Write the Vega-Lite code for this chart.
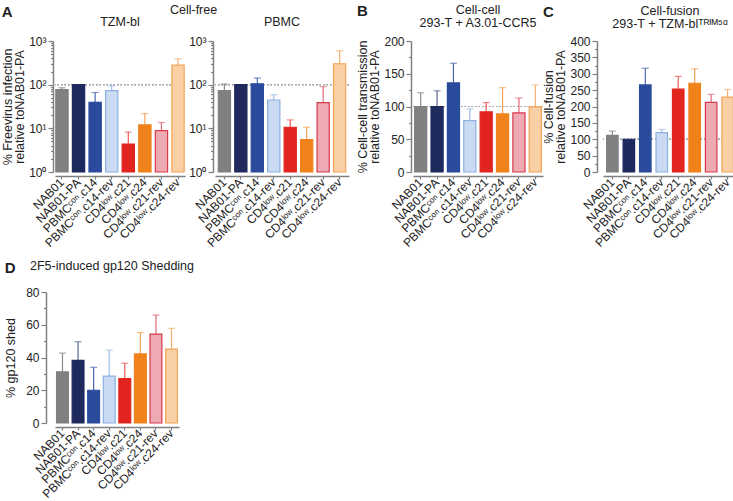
{
"$schema":"https://vega.github.io/schema/vega-lite/v6.json",
"padding":{"left":1,"top":3,"right":0,"bottom":2},
"background":"white",
"config":{"font":"Liberation Sans","view":{"stroke":null},
 "axis":{"domainColor":"#808080","domainWidth":1.5,"tickColor":"#808080","tickWidth":1.2,"labelColor":"#222","titleColor":"#222","labelFontSize":12,"titleFontSize":12.5,"titleFontWeight":"normal","titleLineHeight":12,"grid":false,"labelOverlap":false},
 "title":{"fontSize":12.5,"fontWeight":"normal","color":"#222"}},
"datasets":{
 "a1":[{"g":"NAB01","v":77,"e":85},{"g":"NAB01-PA","v":100,"e":null},{"g":"PBMCᶜᵒⁿ.c14","v":39.5,"e":66},{"g":"PBMCᶜᵒⁿ.c14-rev","v":73,"e":94},{"g":"CD4ˡᵒʷ.c21","v":4.35,"e":8.2},{"g":"CD4ˡᵒʷ.c24","v":12,"e":21.8},{"g":"CD4ˡᵒʷ.c21-rev","v":8.9,"e":13.6},{"g":"CD4ˡᵒʷ.c24-rev","v":281,"e":392}],
 "a2":[{"g":"NAB01","v":73,"e":104},{"g":"NAB01-PA","v":100,"e":null},{"g":"PBMCᶜᵒⁿ.c14","v":105,"e":142},{"g":"PBMCᶜᵒⁿ.c14-rev","v":44.6,"e":59},{"g":"CD4ˡᵒʷ.c21","v":10.6,"e":15.6},{"g":"CD4ˡᵒʷ.c24","v":5.5,"e":10.6},{"g":"CD4ˡᵒʷ.c21-rev","v":38.8,"e":90},{"g":"CD4ˡᵒʷ.c24-rev","v":301,"e":597}],
 "b":[{"g":"NAB01","v":100,"e":121},{"g":"NAB01-PA","v":100,"e":124},{"g":"PBMCᶜᵒⁿ.c14","v":136,"e":166},{"g":"PBMCᶜᵒⁿ.c14-rev","v":78.5,"e":96.4},{"g":"CD4ˡᵒʷ.c21","v":91.8,"e":106},{"g":"CD4ˡᵒʷ.c24","v":88.7,"e":128.7},{"g":"CD4ˡᵒʷ.c21-rev","v":90.3,"e":113},{"g":"CD4ˡᵒʷ.c24-rev","v":99.5,"e":133}],
 "c":[{"g":"NAB01","v":112,"e":125},{"g":"NAB01-PA","v":100,"e":null},{"g":"PBMCᶜᵒⁿ.c14","v":266,"e":317},{"g":"PBMCᶜᵒⁿ.c14-rev","v":120,"e":130},{"g":"CD4ˡᵒʷ.c21","v":253,"e":292},{"g":"CD4ˡᵒʷ.c24","v":271,"e":315},{"g":"CD4ˡᵒʷ.c21-rev","v":212.6,"e":237},{"g":"CD4ˡᵒʷ.c24-rev","v":228.6,"e":252}],
 "d":[{"g":"NAB01","v":31.2,"e":42.7},{"g":"NAB01-PA","v":38.2,"e":49.6},{"g":"PBMCᶜᵒⁿ.c14","v":20,"e":34},{"g":"PBMCᶜᵒⁿ.c14-rev","v":28.6,"e":44.5},{"g":"CD4ˡᵒʷ.c21","v":27.1,"e":36.5},{"g":"CD4ˡᵒʷ.c24","v":42.2,"e":55.3},{"g":"CD4ˡᵒʷ.c21-rev","v":54.3,"e":65.9},{"g":"CD4ˡᵒʷ.c24-rev","v":45.1,"e":57.8}]
},
"spacing":10,
"vconcat":[
{"spacing":6,"hconcat":[
 {"title":{"text":"A","anchor":"start","frame":"bounds","fontSize":15,"fontWeight":"bold","offset":-16},
  "vconcat":[{"title":{"text":"Cell-free","anchor":"middle","frame":"bounds","dx":18,"offset":-1},"spacing":2,"hconcat":[
   {"width":130,"height":131,"title":{"text":"TZM-bl","offset":7,"frame":"group"},"data":{"name":"a1"},
    "layer":[
     {"mark":{"type":"rule","strokeDash":[1.5,2],"color":"#aaa","strokeWidth":1},"encoding":{"y":{"datum":100}}},
     {"transform":[{"filter":"datum.e != null"}],"mark":{"type":"rule","strokeWidth":1.2},"encoding":{"x":{"field":"g","type":"nominal"},"y":{"field":"v","type":"quantitative"},"y2":{"field":"e"},"color":{"field":"g","type":"nominal","scale":{"domain":["NAB01","NAB01-PA","PBMCᶜᵒⁿ.c14","PBMCᶜᵒⁿ.c14-rev","CD4ˡᵒʷ.c21","CD4ˡᵒʷ.c24","CD4ˡᵒʷ.c21-rev","CD4ˡᵒʷ.c24-rev"],"range":["#8a8a8a","#5a6794","#4a66b0","#9dbce6","#ea5a55","#f3a058","#e06a78","#f5b070"]},"legend":null}}},
     {"mark":{"type":"bar","strokeWidth":1.2},"encoding":{
      "x":{"field":"g","type":"nominal","scale":{"domain":["NAB01","NAB01-PA","PBMCᶜᵒⁿ.c14","PBMCᶜᵒⁿ.c14-rev","CD4ˡᵒʷ.c21","CD4ˡᵒʷ.c24","CD4ˡᵒʷ.c21-rev","CD4ˡᵒʷ.c24-rev"],"paddingInner":0.26,"paddingOuter":0.05},"axis":{"title":null,"labelAngle":-45,"offset":4,"tickSize":3,"labelFontSize":12,"labelPadding":1}},
      "y":{"field":"v","type":"quantitative","scale":{"type":"log","domain":[1,1000]},"axis":{"values":[1,2,3,4,5,6,7,8,9,10,20,30,40,50,60,70,80,90,100,200,300,400,500,600,700,800,900,1000],"tickCount":100,"labelExpr":"datum.value==1?'10⁰':datum.value==10?'10¹':datum.value==100?'10²':datum.value==1000?'10³':''","labelOverlap":false,"tickSize":{"condition":{"test":"indexof([1,10,100,1000],datum.value)>=0","value":5},"value":2.5},"title":["% Freevirus infection","relative toNAB01-PA"],"titlePadding":2,"offset":2}},
      "y2":{"datum":1},
      "fill":{"field":"g","type":"nominal","scale":{"domain":["NAB01","NAB01-PA","PBMCᶜᵒⁿ.c14","PBMCᶜᵒⁿ.c14-rev","CD4ˡᵒʷ.c21","CD4ˡᵒʷ.c24","CD4ˡᵒʷ.c21-rev","CD4ˡᵒʷ.c24-rev"],"range":["#808080","#1e2a5e","#2a4b9b","#c9daf2","#e2241f","#f0821c","#eeaab2","#f9cfa5"]},"legend":null},
      "stroke":{"field":"g","type":"nominal","scale":{"domain":["NAB01","NAB01-PA","PBMCᶜᵒⁿ.c14","PBMCᶜᵒⁿ.c14-rev","CD4ˡᵒʷ.c21","CD4ˡᵒʷ.c24","CD4ˡᵒʷ.c21-rev","CD4ˡᵒʷ.c24-rev"],"range":["#808080","#1e2a5e","#2a4b9b","#8cb0e0","#e2241f","#f0821c","#d8394c","#f2a456"]},"legend":null}}},
     {"transform":[{"filter":"datum.e != null"}],"mark":{"type":"tick","thickness":1.2,"size":7},"encoding":{"x":{"field":"g","type":"nominal"},"y":{"field":"e","type":"quantitative"},"color":{"field":"g","type":"nominal","legend":null}}}
    ]},
   {"width":134,"height":131,"title":{"text":"PBMC","offset":7,"frame":"group"},"data":{"name":"a2"},
    "layer":[
     {"mark":{"type":"rule","strokeDash":[1.5,2],"color":"#aaa","strokeWidth":1},"encoding":{"y":{"datum":100}}},
     {"transform":[{"filter":"datum.e != null"}],"mark":{"type":"rule","strokeWidth":1.2},"encoding":{"x":{"field":"g","type":"nominal"},"y":{"field":"v","type":"quantitative"},"y2":{"field":"e"},"color":{"field":"g","type":"nominal","scale":{"domain":["NAB01","NAB01-PA","PBMCᶜᵒⁿ.c14","PBMCᶜᵒⁿ.c14-rev","CD4ˡᵒʷ.c21","CD4ˡᵒʷ.c24","CD4ˡᵒʷ.c21-rev","CD4ˡᵒʷ.c24-rev"],"range":["#8a8a8a","#5a6794","#4a66b0","#9dbce6","#ea5a55","#f3a058","#e06a78","#f5b070"]},"legend":null}}},
     {"mark":{"type":"bar","strokeWidth":1.2},"encoding":{
      "x":{"field":"g","type":"nominal","scale":{"domain":["NAB01","NAB01-PA","PBMCᶜᵒⁿ.c14","PBMCᶜᵒⁿ.c14-rev","CD4ˡᵒʷ.c21","CD4ˡᵒʷ.c24","CD4ˡᵒʷ.c21-rev","CD4ˡᵒʷ.c24-rev"],"paddingInner":0.26,"paddingOuter":0.2},"axis":{"title":null,"labelAngle":-45,"offset":4,"tickSize":3,"labelFontSize":12,"labelPadding":1}},
      "y":{"field":"v","type":"quantitative","scale":{"type":"log","domain":[1,1000]},"axis":{"values":[1,2,3,4,5,6,7,8,9,10,20,30,40,50,60,70,80,90,100,200,300,400,500,600,700,800,900,1000],"tickCount":100,"labelExpr":"datum.value==1?'10⁰':datum.value==10?'10¹':datum.value==100?'10²':datum.value==1000?'10³':''","labelOverlap":false,"tickSize":{"condition":{"test":"indexof([1,10,100,1000],datum.value)>=0","value":5},"value":2.5},"title":null,"offset":2}},
      "y2":{"datum":1},
      "fill":{"field":"g","type":"nominal","scale":{"domain":["NAB01","NAB01-PA","PBMCᶜᵒⁿ.c14","PBMCᶜᵒⁿ.c14-rev","CD4ˡᵒʷ.c21","CD4ˡᵒʷ.c24","CD4ˡᵒʷ.c21-rev","CD4ˡᵒʷ.c24-rev"],"range":["#808080","#1e2a5e","#2a4b9b","#c9daf2","#e2241f","#f0821c","#eeaab2","#f9cfa5"]},"legend":null},
      "stroke":{"field":"g","type":"nominal","scale":{"domain":["NAB01","NAB01-PA","PBMCᶜᵒⁿ.c14","PBMCᶜᵒⁿ.c14-rev","CD4ˡᵒʷ.c21","CD4ˡᵒʷ.c24","CD4ˡᵒʷ.c21-rev","CD4ˡᵒʷ.c24-rev"],"range":["#808080","#1e2a5e","#2a4b9b","#8cb0e0","#e2241f","#f0821c","#d8394c","#f2a456"]},"legend":null}}},
     {"transform":[{"filter":"datum.e != null"}],"mark":{"type":"tick","thickness":1.2,"size":7},"encoding":{"x":{"field":"g","type":"nominal"},"y":{"field":"e","type":"quantitative"},"color":{"field":"g","type":"nominal","legend":null}}}
    ]}
  ]}]},
 {"spacing":-2,"hconcat":[
 {"title":{"text":"B","anchor":"start","frame":"bounds","fontSize":15,"fontWeight":"bold","offset":-15},
  "vconcat":[
   {"width":130,"height":131,"title":{"text":["Cell-cell","293-T + A3.01-CCR5"],"offset":6,"lineHeight":13,"frame":"group"},"data":{"name":"b"},
    "layer":[
     {"mark":{"type":"rule","strokeDash":[1.5,2],"color":"#aaa","strokeWidth":1},"encoding":{"y":{"datum":100}}},
     {"transform":[{"filter":"datum.e != null"}],"mark":{"type":"rule","strokeWidth":1.2},"encoding":{"x":{"field":"g","type":"nominal"},"y":{"field":"v","type":"quantitative"},"y2":{"field":"e"},"color":{"field":"g","type":"nominal","scale":{"domain":["NAB01","NAB01-PA","PBMCᶜᵒⁿ.c14","PBMCᶜᵒⁿ.c14-rev","CD4ˡᵒʷ.c21","CD4ˡᵒʷ.c24","CD4ˡᵒʷ.c21-rev","CD4ˡᵒʷ.c24-rev"],"range":["#8a8a8a","#5a6794","#4a66b0","#9dbce6","#ea5a55","#f3a058","#e06a78","#f5b070"]},"legend":null}}},
     {"mark":{"type":"bar","strokeWidth":1.2},"encoding":{
      "x":{"field":"g","type":"nominal","scale":{"domain":["NAB01","NAB01-PA","PBMCᶜᵒⁿ.c14","PBMCᶜᵒⁿ.c14-rev","CD4ˡᵒʷ.c21","CD4ˡᵒʷ.c24","CD4ˡᵒʷ.c21-rev","CD4ˡᵒʷ.c24-rev"],"paddingInner":0.26,"paddingOuter":0.1},"axis":{"title":null,"labelAngle":-45,"offset":4,"tickSize":3,"labelFontSize":12,"labelPadding":1}},
      "y":{"field":"v","type":"quantitative","scale":{"domain":[0,200]},"axis":{"values":[0,25,50,75,100,125,150,175,200],"tickCount":100,"labelExpr":"datum.value%50==0?datum.label:''","tickSize":{"condition":{"test":"datum.value%50==0","value":5},"value":2.5},"title":["% Cell-cell transmission","relative toNAB01-PA"],"titlePadding":2,"offset":2}},
      "fill":{"field":"g","type":"nominal","scale":{"domain":["NAB01","NAB01-PA","PBMCᶜᵒⁿ.c14","PBMCᶜᵒⁿ.c14-rev","CD4ˡᵒʷ.c21","CD4ˡᵒʷ.c24","CD4ˡᵒʷ.c21-rev","CD4ˡᵒʷ.c24-rev"],"range":["#808080","#1e2a5e","#2a4b9b","#c9daf2","#e2241f","#f0821c","#eeaab2","#f9cfa5"]},"legend":null},
      "stroke":{"field":"g","type":"nominal","scale":{"domain":["NAB01","NAB01-PA","PBMCᶜᵒⁿ.c14","PBMCᶜᵒⁿ.c14-rev","CD4ˡᵒʷ.c21","CD4ˡᵒʷ.c24","CD4ˡᵒʷ.c21-rev","CD4ˡᵒʷ.c24-rev"],"range":["#808080","#1e2a5e","#2a4b9b","#8cb0e0","#e2241f","#f0821c","#d8394c","#f2a456"]},"legend":null}}},
     {"transform":[{"filter":"datum.e != null"}],"mark":{"type":"tick","thickness":1.2,"size":7},"encoding":{"x":{"field":"g","type":"nominal"},"y":{"field":"e","type":"quantitative"},"color":{"field":"g","type":"nominal","legend":null}}}
    ]}]},
 {"title":{"text":"C","anchor":"start","frame":"bounds","fontSize":15,"fontWeight":"bold","offset":-15},
  "vconcat":[
   {"width":134,"height":131,"title":{"text":["Cell-fusion","293-T + TZM-blᵀᴿᴵᴹ⁵ᵅ"],"offset":5,"lineHeight":13,"frame":"group"},"data":{"name":"c"},
    "layer":[
     {"mark":{"type":"rule","strokeDash":[1.5,2],"color":"#aaa","strokeWidth":1},"encoding":{"y":{"datum":100}}},
     {"transform":[{"filter":"datum.e != null"}],"mark":{"type":"rule","strokeWidth":1.2},"encoding":{"x":{"field":"g","type":"nominal"},"y":{"field":"v","type":"quantitative"},"y2":{"field":"e"},"color":{"field":"g","type":"nominal","scale":{"domain":["NAB01","NAB01-PA","PBMCᶜᵒⁿ.c14","PBMCᶜᵒⁿ.c14-rev","CD4ˡᵒʷ.c21","CD4ˡᵒʷ.c24","CD4ˡᵒʷ.c21-rev","CD4ˡᵒʷ.c24-rev"],"range":["#8a8a8a","#5a6794","#4a66b0","#9dbce6","#ea5a55","#f3a058","#e06a78","#f5b070"]},"legend":null}}},
     {"mark":{"type":"bar","strokeWidth":1.2},"encoding":{
      "x":{"field":"g","type":"nominal","scale":{"domain":["NAB01","NAB01-PA","PBMCᶜᵒⁿ.c14","PBMCᶜᵒⁿ.c14-rev","CD4ˡᵒʷ.c21","CD4ˡᵒʷ.c24","CD4ˡᵒʷ.c21-rev","CD4ˡᵒʷ.c24-rev"],"paddingInner":0.3,"paddingOuter":0.22},"axis":{"title":null,"labelAngle":-45,"offset":4,"tickSize":3,"labelFontSize":12,"labelPadding":1}},
      "y":{"field":"v","type":"quantitative","scale":{"domain":[0,400]},"axis":{"values":[0,25,50,75,100,125,150,175,200,225,250,275,300,325,350,375,400],"tickCount":100,"labelExpr":"datum.value%50==0?datum.label:''","tickSize":{"condition":{"test":"datum.value%50==0","value":5},"value":2.5},"title":["% Cell-fusion","relative toNAB01-PA"],"titlePadding":2,"offset":6}},
      "fill":{"field":"g","type":"nominal","scale":{"domain":["NAB01","NAB01-PA","PBMCᶜᵒⁿ.c14","PBMCᶜᵒⁿ.c14-rev","CD4ˡᵒʷ.c21","CD4ˡᵒʷ.c24","CD4ˡᵒʷ.c21-rev","CD4ˡᵒʷ.c24-rev"],"range":["#808080","#1e2a5e","#2a4b9b","#c9daf2","#e2241f","#f0821c","#eeaab2","#f9cfa5"]},"legend":null},
      "stroke":{"field":"g","type":"nominal","scale":{"domain":["NAB01","NAB01-PA","PBMCᶜᵒⁿ.c14","PBMCᶜᵒⁿ.c14-rev","CD4ˡᵒʷ.c21","CD4ˡᵒʷ.c24","CD4ˡᵒʷ.c21-rev","CD4ˡᵒʷ.c24-rev"],"range":["#808080","#1e2a5e","#2a4b9b","#8cb0e0","#e2241f","#f0821c","#d8394c","#f2a456"]},"legend":null}}},
     {"transform":[{"filter":"datum.e != null"}],"mark":{"type":"tick","thickness":1.2,"size":7},"encoding":{"x":{"field":"g","type":"nominal"},"y":{"field":"e","type":"quantitative"},"color":{"field":"g","type":"nominal","legend":null}}}
    ]}]}
 ]}
 ]},
 {"title":{"text":"D","anchor":"start","frame":"bounds","fontSize":15,"fontWeight":"bold","offset":-16},
  "vconcat":[
   {"width":124,"height":131,"title":{"text":"2F5-induced gp120 Shedding","anchor":"start","frame":"group","dx":-25,"offset":14},"data":{"name":"d"},
    "layer":[
     {"transform":[{"filter":"datum.e != null"}],"mark":{"type":"rule","strokeWidth":1.2},"encoding":{"x":{"field":"g","type":"nominal"},"y":{"field":"v","type":"quantitative"},"y2":{"field":"e"},"color":{"field":"g","type":"nominal","scale":{"domain":["NAB01","NAB01-PA","PBMCᶜᵒⁿ.c14","PBMCᶜᵒⁿ.c14-rev","CD4ˡᵒʷ.c21","CD4ˡᵒʷ.c24","CD4ˡᵒʷ.c21-rev","CD4ˡᵒʷ.c24-rev"],"range":["#8a8a8a","#5a6794","#4a66b0","#9dbce6","#ea5a55","#f3a058","#e06a78","#f5b070"]},"legend":null}}},
     {"mark":{"type":"bar","strokeWidth":1.2},"encoding":{
      "x":{"field":"g","type":"nominal","scale":{"domain":["NAB01","NAB01-PA","PBMCᶜᵒⁿ.c14","PBMCᶜᵒⁿ.c14-rev","CD4ˡᵒʷ.c21","CD4ˡᵒʷ.c24","CD4ˡᵒʷ.c21-rev","CD4ˡᵒʷ.c24-rev"],"paddingInner":0.24,"paddingOuter":0.1},"axis":{"title":null,"labelAngle":-45,"offset":4,"tickSize":3,"labelFontSize":12,"labelPadding":1}},
      "y":{"field":"v","type":"quantitative","scale":{"domain":[0,80]},"axis":{"values":[0,10,20,30,40,50,60,70,80],"tickCount":100,"labelExpr":"datum.value%20==0?datum.label:''","tickSize":{"condition":{"test":"datum.value%20==0","value":5},"value":2.5},"title":"% gp120 shed","titlePadding":8,"offset":9}},
      "fill":{"field":"g","type":"nominal","scale":{"domain":["NAB01","NAB01-PA","PBMCᶜᵒⁿ.c14","PBMCᶜᵒⁿ.c14-rev","CD4ˡᵒʷ.c21","CD4ˡᵒʷ.c24","CD4ˡᵒʷ.c21-rev","CD4ˡᵒʷ.c24-rev"],"range":["#808080","#1e2a5e","#2a4b9b","#c9daf2","#e2241f","#f0821c","#eeaab2","#f9cfa5"]},"legend":null},
      "stroke":{"field":"g","type":"nominal","scale":{"domain":["NAB01","NAB01-PA","PBMCᶜᵒⁿ.c14","PBMCᶜᵒⁿ.c14-rev","CD4ˡᵒʷ.c21","CD4ˡᵒʷ.c24","CD4ˡᵒʷ.c21-rev","CD4ˡᵒʷ.c24-rev"],"range":["#808080","#1e2a5e","#2a4b9b","#8cb0e0","#e2241f","#f0821c","#d8394c","#f2a456"]},"legend":null}}},
     {"transform":[{"filter":"datum.e != null"}],"mark":{"type":"tick","thickness":1.2,"size":7},"encoding":{"x":{"field":"g","type":"nominal"},"y":{"field":"e","type":"quantitative"},"color":{"field":"g","type":"nominal","legend":null}}}
    ]}]}
]
}
